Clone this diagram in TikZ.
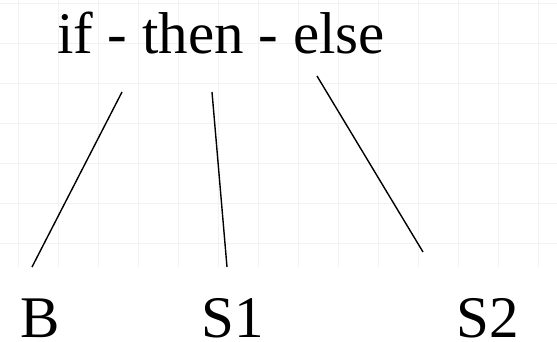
\documentclass[tikz,border=0pt]{standalone}
\usepackage{fontspec}
\setmainfont{Liberation Serif}
\definecolor{gridcol}{RGB}{242,242,242}
\begin{document}
\begin{tikzpicture}[x=1pt,y=-1pt,
  lbl/.style={inner sep=0pt,anchor=base west,font=\fontsize{59}{59}\selectfont},
  edge/.style={line width=1.4pt,black}]
\useasboundingbox (0,0) rectangle (557,341);
\fill[white] (0,0) rectangle (557,341);
\begin{scope}
\clip (0,0) rectangle (557,267);
\foreach \x in {18,58,...,538} \draw[gridcol,line width=1pt] (\x,0) -- (\x,267);
\foreach \y in {3,43,...,243} \draw[gridcol,line width=1pt] (0,\y) -- (557,\y);
\end{scope}
\node[lbl] (top) at (57,53) {if - then - else};
\node[lbl] (b) at (20,337) {B};
\node[lbl] (s1) at (201,337) {S1};
\node[lbl] (s2) at (456,337) {S2};
\coordinate (t1) at (122,92);
\coordinate (t2) at (212,92);
\coordinate (t3) at (317,76);
\coordinate (e1) at (32,267);
\coordinate (e2) at (227,267);
\coordinate (e3) at (423,252);
\draw[edge] (t1) -- (e1);
\draw[edge] (t2) -- (e2);
\draw[edge] (t3) -- (e3);
\end{tikzpicture}
\end{document}
